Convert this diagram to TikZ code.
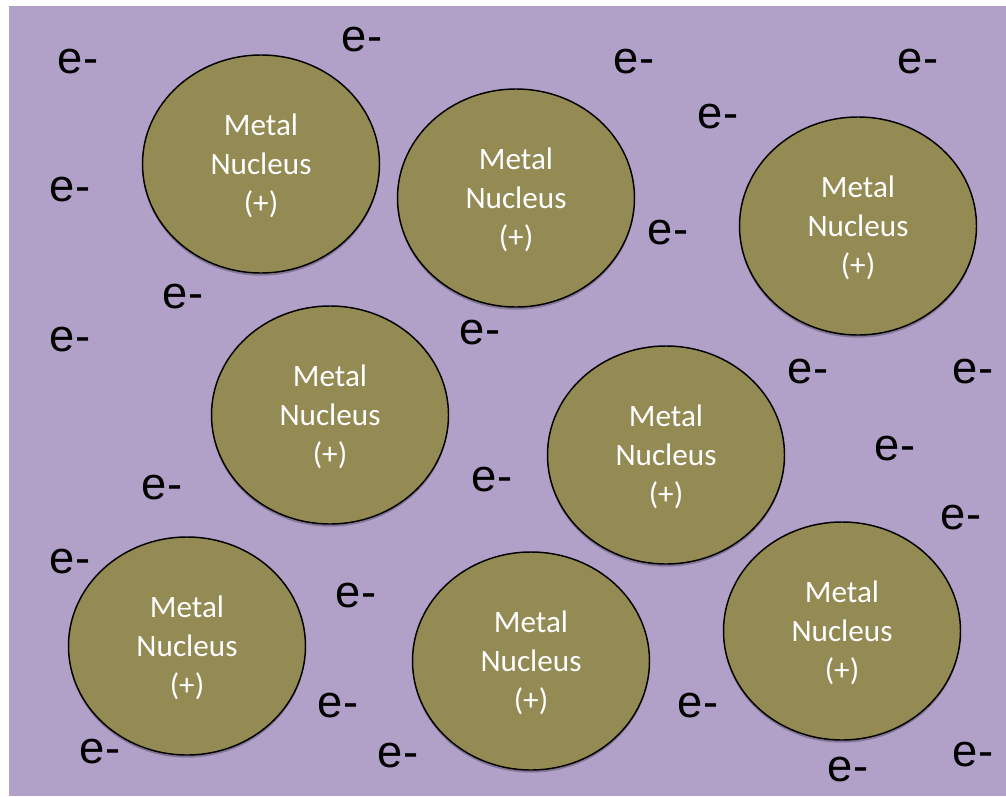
\documentclass[tikz,border=0pt]{standalone}
\usepackage{fontspec}
\setmainfont{Liberation Sans}
\newfontfamily\nucfont{Carlito}
\usetikzlibrary{shapes.geometric,shadows}
\definecolor{bgpurple}{HTML}{B1A0C7}
\definecolor{olive}{HTML}{948A54}
\tikzset{
  nucleus/.style={ellipse, draw=black, line width=1.1pt, fill=olive,
    minimum width=177.75pt, minimum height=163.5pt, inner sep=0pt,
    text=white, align=center, text depth=0pt,
    font=\nucfont\fontsize{23.4}{29.3}\selectfont,
    drop shadow={shadow xshift=0pt, shadow yshift=-2pt, opacity=0.25, fill=black}},
  electron/.style={font=\fontsize{34}{40}\selectfont, text=black, inner sep=0pt}
}
\begin{document}
\begin{tikzpicture}[x=0.75pt,y=-0.75pt]
\useasboundingbox (0,0) rectangle (1006,796);
\fill[white] (0,0) rectangle (1006,796);
\fill[bgpurple] (9,6) rectangle (1006,796);
% nuclei
\node[nucleus] (n1) at (261,164) {Metal\\Nucleus\\(+)};
\node[nucleus] (n2) at (516,198) {Metal\\Nucleus\\(+)};
\node[nucleus] (n3) at (858,226) {Metal\\Nucleus\\(+)};
\node[nucleus] (n4) at (330,415) {Metal\\Nucleus\\(+)};
\node[nucleus] (n5) at (666,455) {Metal\\Nucleus\\(+)};
\node[nucleus] (n6) at (187,646) {Metal\\Nucleus\\(+)};
\node[nucleus] (n7) at (531,661) {Metal\\Nucleus\\(+)};
\node[nucleus] (n8) at (842,631) {Metal\\Nucleus\\(+)};
% electrons
\node[electron] (e1) at (78,62) {e-};
\node[electron] (e2) at (362,40) {e-};
\node[electron] (e3) at (634,62) {e-};
\node[electron] (e4) at (918,62) {e-};
\node[electron] (e5) at (718,117) {e-};
\node[electron] (e6) at (70,190) {e-};
\node[electron] (e7) at (668,233) {e-};
\node[electron] (e8) at (183,297) {e-};
\node[electron] (e9) at (70,340) {e-};
\node[electron] (e10) at (480,333) {e-};
\node[electron] (e11) at (808,372) {e-};
\node[electron] (e12) at (973,372) {e-};
\node[electron] (e13) at (895,449) {e-};
\node[electron] (e14) at (162,488) {e-};
\node[electron] (e15) at (492,480) {e-};
\node[electron] (e16) at (961,518) {e-};
\node[electron] (e17) at (70,562) {e-};
\node[electron] (e18) at (356,596) {e-};
\node[electron] (e19) at (338,706) {e-};
\node[electron] (e20) at (698,706) {e-};
\node[electron] (e21) at (100,752) {e-};
\node[electron] (e22) at (398,756) {e-};
\node[electron] (e23) at (848,770) {e-};
\node[electron] (e24) at (973,755) {e-};
\end{tikzpicture}
\end{document}
